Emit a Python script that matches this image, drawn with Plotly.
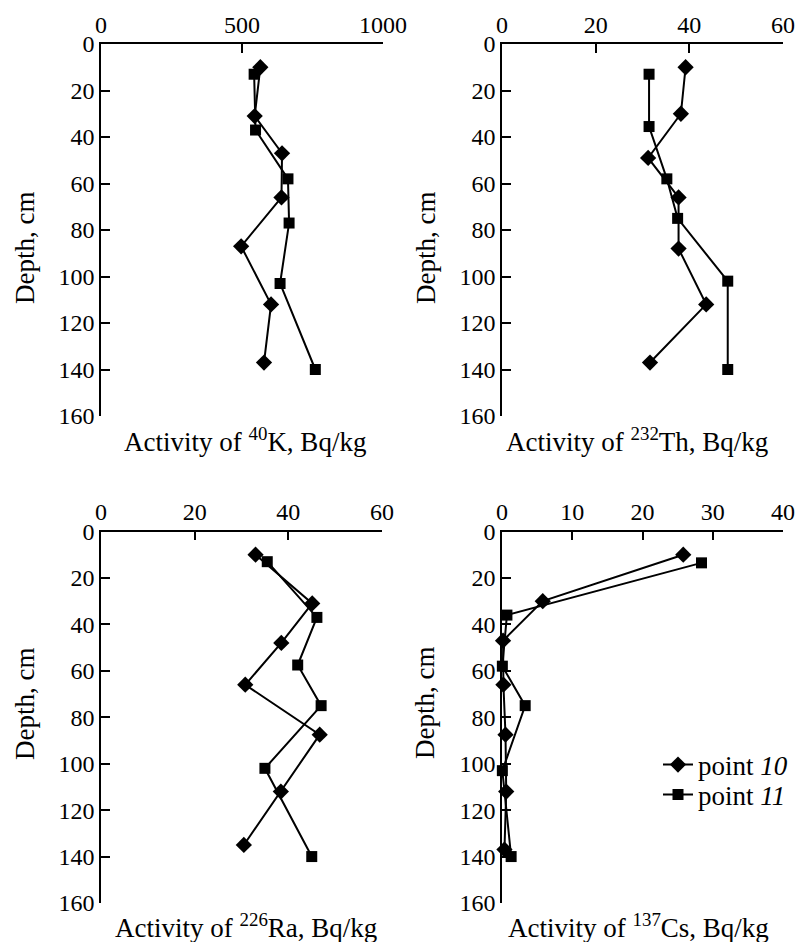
import plotly.graph_objects as go

# ---- data ----
depth_k_p10 = [10, 31, 47, 66, 87, 112, 137]
k_p10 = [565, 545, 642, 640, 497, 603, 578]
depth_k_p11 = [13, 37, 58, 77, 103, 140]
k_p11 = [543, 548, 663, 667, 635, 760]

depth_th_p10 = [10, 30, 49, 66, 88, 112, 137]
th_p10 = [39.2, 38.2, 31.2, 37.7, 37.7, 43.6, 31.6]
depth_th_p11 = [13, 35.5, 58, 75, 102, 140]
th_p11 = [31.4, 31.4, 35.2, 37.5, 48.2, 48.2]

depth_ra_p10 = [10, 31, 48, 66, 87.5, 112, 135]
ra_p10 = [33, 45.1, 38.5, 30.8, 46.7, 38.4, 30.5]
depth_ra_p11 = [13, 37, 57.5, 75, 102, 140]
ra_p11 = [35.5, 46.1, 42, 47, 35, 45]

depth_cs_p10 = [10, 30, 47, 66, 87.5, 112, 137]
cs_p10 = [25.8, 5.8, 0.15, 0.2, 0.5, 0.6, 0.35]
depth_cs_p11 = [13.5, 36, 58, 75, 103, 140]
cs_p11 = [28.4, 0.7, 0.05, 3.3, 0.05, 1.3]

x_ticks_k = [0, 500, 1000]
x_ticks_th = [0, 20, 40, 60]
x_ticks_ra = [0, 20, 40, 60]
x_ticks_cs = [0, 10, 20, 30, 40]
depth_ticks = [0, 20, 40, 60, 80, 100, 120, 140, 160]

series_names = ["point <i>10</i>", "point <i>11</i>"]
x_titles = ["Activity of <sup>40</sup>K, Bq/kg", "Activity of <sup>232</sup>Th, Bq/kg",
            "Activity of <sup>226</sup>Ra, Bq/kg", "Activity of <sup>137</sup>Cs, Bq/kg"]
y_title = "Depth, cm"

FONT = "Liberation Serif"
W, H = 797, 942

panels = [
    (k_p10, depth_k_p10, k_p11, depth_k_p11, x_ticks_k),
    (th_p10, depth_th_p10, th_p11, depth_th_p11, x_ticks_th),
    (ra_p10, depth_ra_p10, ra_p11, depth_ra_p11, x_ticks_ra),
    (cs_p10, depth_cs_p10, cs_p11, depth_cs_p11, x_ticks_cs),
]

# plot-area pixel boxes (left, right, top, bottom)
boxes = [(101, 383, 44, 416), (502, 783, 44, 416), (101, 382, 531.5, 903), (502, 783, 531.5, 903)]

fig = go.Figure()
layout = {}
for i, (x10, d10, x11, d11, xt) in enumerate(panels):
    n = i + 1
    xa = "x" if n == 1 else f"x{n}"
    ya = "y" if n == 1 else f"y{n}"
    show = (n == 4)
    fig.add_trace(go.Scatter(x=x10, y=d10, xaxis=xa, yaxis=ya, mode="lines+markers",
                             name=series_names[0], showlegend=show, legend="legend",
                             cliponaxis=False,
                             line=dict(color="black", width=2),
                             marker=dict(symbol="diamond", size=12.5, color="black")))
    fig.add_trace(go.Scatter(x=x11, y=d11, xaxis=xa, yaxis=ya, mode="lines+markers",
                             name=series_names[1], showlegend=show, legend="legend2",
                             cliponaxis=False,
                             line=dict(color="black", width=2),
                             marker=dict(symbol="square", size=11, color="black")))
    l, r, t, b = boxes[i]
    xk = "xaxis" if n == 1 else f"xaxis{n}"
    yk = "yaxis" if n == 1 else f"yaxis{n}"
    layout[xk] = dict(domain=[l / W, r / W], anchor=ya, side="top", range=[xt[0], xt[-1]],
                      tickvals=xt, ticks="inside", ticklen=9, tickwidth=1.5, tickcolor="black",
                      showline=True, linecolor="black", linewidth=1.5, showgrid=False,
                      zeroline=False, automargin=False,
                      tickfont=dict(family=FONT, size=24, color="black"))
    layout[yk] = dict(domain=[1 - b / H, 1 - t / H], anchor=xa, range=[160, 0],
                      tickvals=depth_ticks, ticks="inside", ticklen=9, tickwidth=1.5,
                      tickcolor="black", showline=True, linecolor="black", linewidth=1.5,
                      showgrid=False, zeroline=False, automargin=False,
                      tickfont=dict(family=FONT, size=24, color="black"))

annotations = []
x_title_pos = [(245, 440), (637, 440), (246, 926), (638, 926)]
y_title_pos = [(25, 248), (426, 248), (25, 704), (425, 703)]
for i in range(4):
    xp, yp = x_title_pos[i]
    annotations.append(dict(text=x_titles[i], x=xp / W, y=1 - yp / H, xref="paper", yref="paper",
                            showarrow=False, xanchor="center", yanchor="middle",
                            font=dict(family=FONT, size=27, color="black")))
    xp, yp = y_title_pos[i]
    annotations.append(dict(text=y_title, x=xp / W, y=1 - yp / H, xref="paper", yref="paper",
                            showarrow=False, xanchor="center", yanchor="middle", textangle=-90,
                            font=dict(family=FONT, size=27, color="black")))

legend_common = dict(xanchor="left", yanchor="middle", bgcolor="rgba(0,0,0,0)",
                     borderwidth=0, itemwidth=30,
                     font=dict(family=FONT, size=27, color="black"))

fig.update_layout(
    width=W, height=H, margin=dict(l=0, r=0, t=0, b=0, autoexpand=False),
    paper_bgcolor="white", plot_bgcolor="white",
    font=dict(family=FONT, color="black"),
    showlegend=True,
    legend=dict(x=658 / W, y=1 - 765 / H, **legend_common),
    legend2=dict(x=658 / W, y=1 - 795 / H, **legend_common),
    annotations=annotations,
    **layout,
)

fig.write_html("out.html", config={"displayModeBar": False},
               post_script="document.body.style.margin='0';")
